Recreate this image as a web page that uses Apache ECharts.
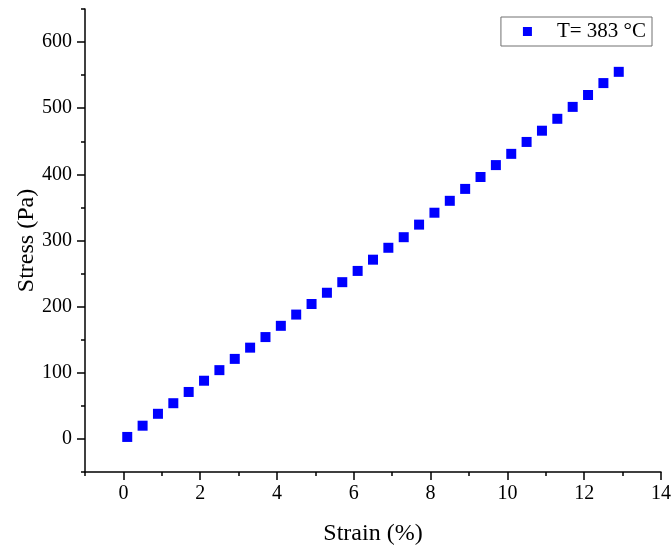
<!DOCTYPE html>
<html>
<head>
<meta charset="utf-8">
<script src="https://cdn.jsdelivr.net/npm/echarts@6/dist/echarts.min.js"></script>
<style>
html,body{margin:0;padding:0;background:#fff;}
#c{width:671px;height:549px;}
</style>
</head>
<body>
<div id="c"></div>
<script>
var strain = [0.1,0.5,0.9,1.3,1.7,2.1,2.5,2.9,3.3,3.7,4.1,4.5,4.9,5.3,5.7,6.1,6.5,6.9,7.3,7.7,8.1,8.5,8.9,9.3,9.7,10.1,10.5,10.9,11.3,11.7,12.1,12.5,12.9];
var stress = [3,20,38,54,71,88,104,121,138,154,171,188,204,221,237,254,271,289,305,324,342,360,378,396,414,431,449,466,484,502,520,538,555];
var xMajorTicks = [0,2,4,6,8,10,12,14];
var xMinorTicks = [-1,1,3,5,7,9,11,13];
var yMajorTicks = [0,100,200,300,400,500,600];
var yMinorTicks = [-50,50,150,250,350,450,550,650];
var seriesName = 'T= 383 °C';
var xTitle = 'Strain (%)';
var yTitle = 'Stress (Pa)';

var data = strain.map(function(x,i){return [x, stress[i]];});
var font = '"Liberation Serif","Times New Roman",serif';
var black = '#000';
function majorAxis(o){
  return Object.assign({
    type:'value',
    nameMoveOverlap:false,
    axisLine:{show:true,onZero:false,lineStyle:{color:black,width:1.5}},
    splitLine:{show:false},
    nameTextStyle:{fontFamily:font,fontSize:24,color:black}
  }, o);
}
function minorAxis(o){
  return Object.assign({
    type:'value',
    axisLine:{show:false,onZero:false},
    axisLabel:{show:false},
    splitLine:{show:false}
  }, o);
}
var chart = echarts.init(document.getElementById('c'), null, {renderer:'canvas'});
chart.setOption({
  animation:false,
  backgroundColor:'#fff',
  grid:{left:85,right:10,top:9,bottom:77,containLabel:false,outerBoundsMode:'none'},
  legend:{
    right:19, top:17,
    orient:'horizontal',
    borderColor:'#707070', borderWidth:1, borderRadius:0,
    padding:[4,6,4,22],
    itemWidth:9, itemHeight:9,
    icon:'rect',
    textStyle:{fontFamily:font,fontSize:21,color:black,padding:[0,0,0,20]},
    data:[seriesName]
  },
  xAxis:[
    majorAxis({
      position:'bottom', min:-1, max:14, interval:1,
      name:xTitle, nameLocation:'middle', nameGap:50,
      axisTick:{show:true,inside:false,length:8,customValues:xMajorTicks,lineStyle:{color:black,width:1.5}},
      axisLabel:{fontFamily:font,fontSize:20,color:black,margin:12,customValues:xMajorTicks}
    }),
    minorAxis({
      position:'bottom', min:-1, max:14, interval:1,
      axisTick:{show:true,inside:false,length:4,customValues:xMinorTicks,lineStyle:{color:black,width:1.5}}
    })
  ],
  yAxis:[
    majorAxis({
      position:'left', min:-50, max:650, interval:50,
      name:yTitle, nameLocation:'middle', nameGap:46,
      axisTick:{show:true,inside:false,length:8,customValues:yMajorTicks,lineStyle:{color:black,width:1.5}},
      axisLabel:{fontFamily:font,fontSize:20,color:black,margin:13,customValues:yMajorTicks}
    }),
    minorAxis({
      position:'left', min:-50, max:650, interval:50,
      axisTick:{show:true,inside:false,length:4,customValues:yMinorTicks,lineStyle:{color:black,width:1.5}}
    })
  ],
  series:[{
    name:seriesName, type:'scatter', symbol:'rect', symbolSize:10,
    xAxisIndex:0, yAxisIndex:0,
    itemStyle:{color:'#0000ff',opacity:1},
    data:data
  }]
});
</script>
</body>
</html>
